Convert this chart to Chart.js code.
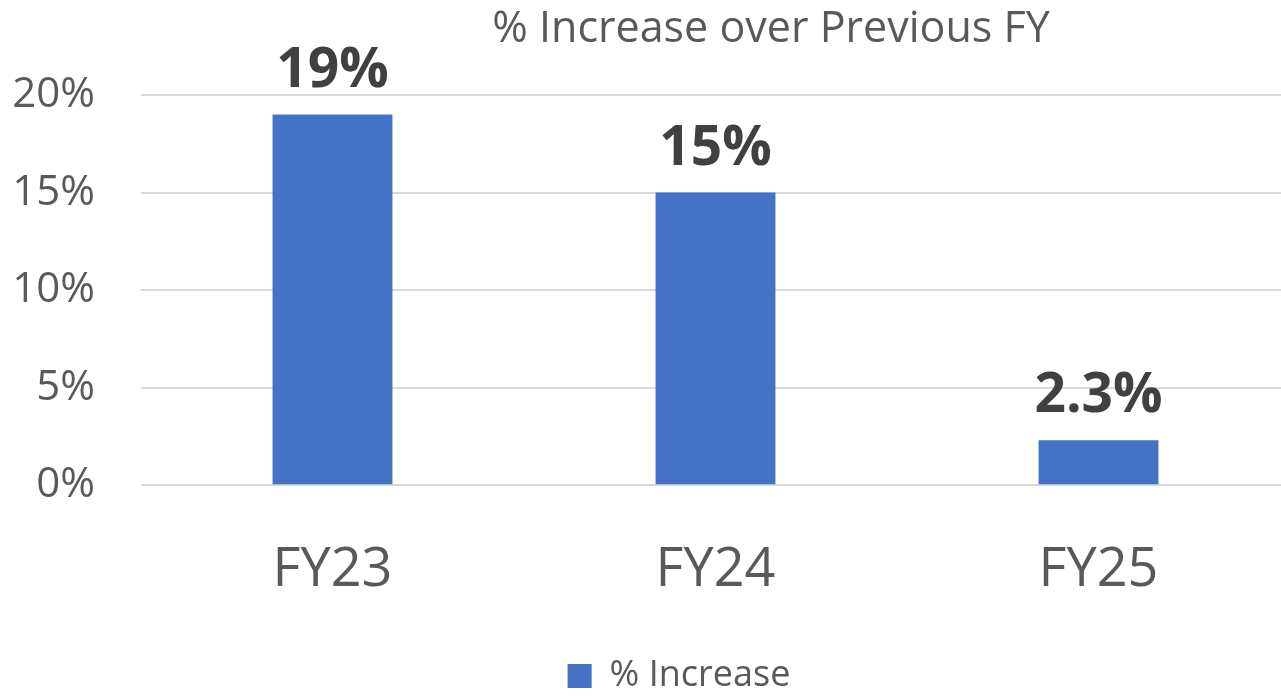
<!DOCTYPE html>
<html>
<head>
<meta charset="utf-8">
<script src="https://cdn.jsdelivr.net/npm/chart.js@4/dist/chart.umd.min.js"></script>
<style>
  html, body { margin: 0; padding: 0; background: #fff; overflow: hidden; }
  #wrap { position: relative; width: 1290px; height: 699px; }
  #title {
    position: absolute; left: 771px; top: -4px; transform: translateX(-50%);
    font-family: 'Open Sans', sans-serif; font-size: 43px; color: #595959;
    white-space: nowrap;
  }
</style>
</head>
<body>
<div id="wrap">
  <div id="title">% Increase over Previous FY</div>
  <canvas id="grafico" width="1290" height="699"></canvas>
</div>
<script>
const ctx = document.getElementById('grafico');

const anos = ['FY23', 'FY24', 'FY25'];
const aumento = [19, 15, 2.3];
const ticksY = [0, 5, 10, 15, 20];

// escreve o valor em cima de cada barra
const rotulos = {
  id: 'rotulos',
  afterDatasetsDraw(chart) {
    const c = chart.ctx;
    const meta = chart.getDatasetMeta(0);
    c.save();
    c.font = 'bold 55px "Open Sans"';
    c.fillStyle = '#404040';
    c.textAlign = 'center';
    c.textBaseline = 'alphabetic';
    meta.data.forEach((barra, i) => {
      c.fillText(aumento[i] + '%', barra.x, barra.y - 28);
    });
    c.restore();
  }
};

// a legenda fica um pouco a direita do centro no original
const moveLegenda = {
  id: 'moveLegenda',
  afterLayout(chart) {
    chart.legend.left += 34;
    chart.legend.right += 34;
  }
};

new Chart(ctx, {
  type: 'bar',
  data: {
    labels: anos,
    datasets: [{
      label: '% Increase',
      data: aumento,
      backgroundColor: '#4472c4',
      borderWidth: 0,
      categoryPercentage: 1,
      barPercentage: 0.313
    }]
  },
  options: {
    responsive: false,
    maintainAspectRatio: false,
    animation: false,
    layout: { padding: { top: 95, bottom: -5, left: 0, right: 0 } },
    scales: {
      x: {
        grid: { display: false },
        border: { display: false },
        afterFit: (scale) => { scale.height += 10; },
        ticks: {
          color: '#595959',
          font: { family: 'Open Sans', size: 54 },
          padding: 45
        }
      },
      y: {
        min: 0,
        max: 20,
        afterBuildTicks: (scale) => { scale.ticks = ticksY.map(v => ({ value: v })); },
        afterFit: (scale) => { scale.width = 141; },
        grid: { color: '#d9d9d9', lineWidth: 2, drawTicks: false },
        border: { display: false },
        ticks: {
          color: '#595959',
          font: { family: 'Open Sans', size: 42 },
          padding: 46,
          callback: (v) => v + '%'
        }
      }
    },
    plugins: {
      legend: {
        position: 'bottom',
        labels: {
          color: '#595959',
          font: { family: 'Open Sans', size: 36 },
          boxWidth: 24,
          boxHeight: 24,
          padding: 0
        }
      },
      tooltip: { enabled: false }
    }
  },
  plugins: [rotulos, moveLegenda]
});
</script>
</body>
</html>
